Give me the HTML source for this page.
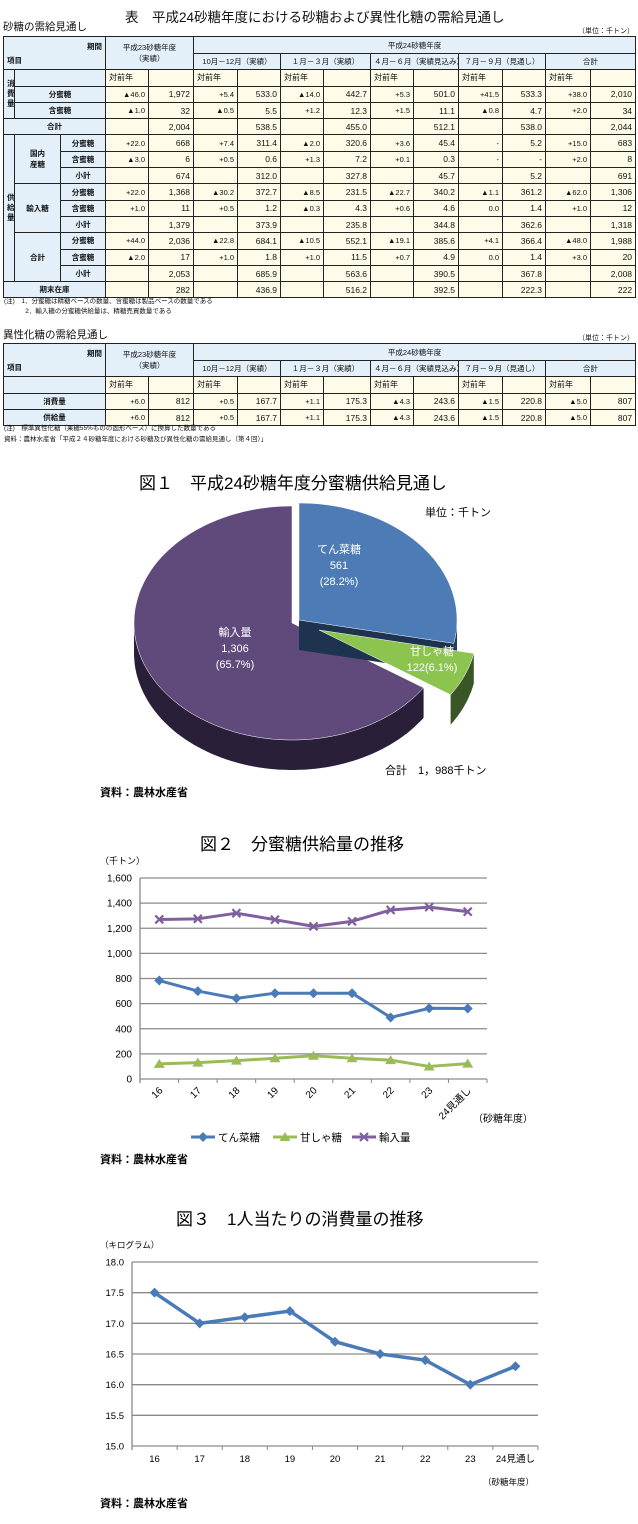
<!DOCTYPE html>
<html><head><meta charset="utf-8">
<style>
*{margin:0;padding:0;box-sizing:border-box}
body{width:638px;height:1524px;position:relative;background:#fff;font-family:"Liberation Sans","Noto Sans CJK JP",sans-serif;color:#111;overflow:hidden}
.abs{position:absolute;white-space:nowrap}
table{position:absolute;left:3px;width:632px;border-collapse:collapse;table-layout:fixed;font-size:7.5px}
td{border:1px solid #222;height:16.3px;padding:0 3px;overflow:hidden;white-space:nowrap}
.h{background:#e3f0fa;text-align:center}
.l{background:#e3f0fa;text-align:center;font-weight:bold}
.y{background:#fffbe9;text-align:right;border-right:1px dashed #333}
.v{background:#fffbe9;text-align:right;font-size:8.5px}
.yh{background:#fffbe9;text-align:left;border-right:1px dashed #333;font-size:8px}
</style></head><body>
<div class="abs" style="left:125px;top:6px;font-size:13.5px">表　平成24砂糖年度における砂糖および異性化糖の需給見通し</div>
<div class="abs" style="left:3px;top:21px;font-size:10.5px;line-height:13px">砂糖の需給見通し</div>
<div class="abs" style="right:4px;top:26px;font-size:7px">（単位：千トン）</div>
<table id="t1" style="top:36px">
<colgroup><col style="width:11px"><col style="width:46px"><col style="width:45px"><col style="width:43px"><col style="width:45px"><col style="width:44px"><col style="width:43px"><col style="width:43px"><col style="width:47px"><col style="width:43px"><col style="width:45px"><col style="width:44px"><col style="width:43px"><col style="width:45px"><col style="width:45px"></colgroup>
</table>
<div class="abs" style="left:4px;top:297px;font-size:6.5px;line-height:10px">(注)　1．分蜜糖は精糖ベースの数量、含蜜糖は製品ベースの数量である<br>　　　 2．輸入糖の分蜜糖供給量は、精糖売買数量である</div>
<div class="abs" style="left:3px;top:329px;font-size:10.5px;line-height:13px">異性化糖の需給見通し</div>
<div class="abs" style="right:4px;top:333px;font-size:7px">（単位：千トン）</div>
<table id="t2" style="top:343px">
<colgroup><col style="width:11px"><col style="width:46px"><col style="width:45px"><col style="width:43px"><col style="width:45px"><col style="width:44px"><col style="width:43px"><col style="width:43px"><col style="width:47px"><col style="width:43px"><col style="width:45px"><col style="width:44px"><col style="width:43px"><col style="width:45px"><col style="width:45px"></colgroup>
</table>
<div class="abs" style="left:4px;top:424px;font-size:6.5px;line-height:10.5px">(注)　標準異性化糖（果糖55%ものの固形ベース）に換算した数量である<br>資料：農林水産省「平成２４砂糖年度における砂糖及び異性化糖の需給見通し（第４回）」</div>

<svg id="svg" width="638" height="1524" style="position:absolute;left:0;top:0" font-family="Liberation Sans, Noto Sans CJK JP, sans-serif">
<text x="139" y="489" font-size="17">図１　平成24砂糖年度分蜜糖供給見通し</text>
<text x="425" y="516" font-size="11">単位：千トン</text>
<text x="385" y="774" font-size="11">合計　1，988千トン</text>
<text x="100" y="796" font-size="11" font-weight="bold">資料：農林水産省</text>
<text x="200" y="850" font-size="17">図２　分蜜糖供給量の推移</text>
<text x="100" y="864" font-size="9">（千トン）</text>
<text x="100" y="1163" font-size="11" font-weight="bold">資料：農林水産省</text>
<text x="473" y="1122" font-size="10">（砂糖年度）</text>
<text x="176" y="1225" font-size="17">図３　1人当たりの消費量の推移</text>
<text x="100" y="1248" font-size="8.5">（キログラム）</text>
<text x="483" y="1485" font-size="8.5">（砂糖年度）</text>
<text x="100" y="1507" font-size="11" font-weight="bold">資料：農林水産省</text>
</svg>

<script>
const periods=["10月－12月（実績）","１月－３月（実績）","４月－６月（実績見込み）","７月－９月（見通し）","合計"];
const consFun=[["▲46.0","1,972"],["+5.4","533.0"],["▲14.0","442.7"],["+5.3","501.0"],["+41.5","533.3"],["+38.0","2,010"]];
const consGan=[["▲1.0","32"],["▲0.5","5.5"],["+1.2","12.3"],["+1.5","11.1"],["▲0.8","4.7"],["+2.0","34"]];
const consTot=["2,004","538.5","455.0","512.1","538.0","2,044"];
const domFun=[["+22.0","668"],["+7.4","311.4"],["▲2.0","320.6"],["+3.6","45.4"],["-","5.2"],["+15.0","683"]];
const domGan=[["▲3.0","6"],["+0.5","0.6"],["+1.3","7.2"],["+0.1","0.3"],["-","-"],["+2.0","8"]];
const domSub=["674","312.0","327.8","45.7","5.2","691"];
const impFun=[["+22.0","1,368"],["▲30.2","372.7"],["▲8.5","231.5"],["▲22.7","340.2"],["▲1.1","361.2"],["▲62.0","1,306"]];
const impGan=[["+1.0","11"],["+0.5","1.2"],["▲0.3","4.3"],["+0.6","4.6"],["0.0","1.4"],["+1.0","12"]];
const impSub=["1,379","373.9","235.8","344.8","362.6","1,318"];
const totFun=[["+44.0","2,036"],["▲22.8","684.1"],["▲10.5","552.1"],["▲19.1","385.6"],["+4.1","366.4"],["▲48.0","1,988"]];
const totGan=[["▲2.0","17"],["+1.0","1.8"],["+1.0","11.5"],["+0.7","4.9"],["0.0","1.4"],["+3.0","20"]];
const totSub=["2,053","685.9","563.6","390.5","367.8","2,008"];
const stock=["282","436.9","516.2","392.5","222.3","222"];
const isoCons=[["+6.0","812"],["+0.5","167.7"],["+1.1","175.3"],["▲4.3","243.6"],["▲1.5","220.8"],["▲5.0","807"]];
const isoSup=[["+6.0","812"],["+0.5","167.7"],["+1.1","175.3"],["▲4.3","243.6"],["▲1.5","220.8"],["▲5.0","807"]];

function cell(tr,cls,txt,cs,rs){const td=document.createElement('td');td.className=cls;td.innerHTML=txt;if(cs)td.colSpan=cs;if(rs)td.rowSpan=rs;tr.appendChild(td);return td;}
function header(t){
 let tr=t.insertRow();
 let c=cell(tr,'h','<div style="text-align:right;font-weight:bold">期間</div><div style="text-align:left;font-weight:bold;margin-top:3px">項目</div>',3,2);
 
 
 c=cell(tr,'h','平成23砂糖年度<br>（実績）',2,2);
 
 
 c=cell(tr,'h','平成24砂糖年度',10);
 
 
 tr.style.height='17px';
 tr=t.insertRow();
 periods.forEach(p=>{const c=cell(tr,'h',p,2);
 
 });
 tr.style.height='14px';
}
function yoyRow(tr){for(let i=0;i<6;i++){cell(tr,'yh','対前年');cell(tr,'v','');}}
function dataCells(tr,arr){arr.forEach(p=>{cell(tr,'y',p[0]);const c=cell(tr,'v',p[1]);
 
 });}
function subCells(tr,arr){arr.forEach(v=>{cell(tr,'y','');const c=cell(tr,'v',v);
 
 });}
const vert=s=>'<div style="line-height:10px;font-weight:bold">'+s.split('').join('<br>')+'</div>';
const t1=document.getElementById('t1');
header(t1);
let tr=t1.insertRow();cell(tr,'l',vert('消費量'),1,3);cell(tr,'l','',2);yoyRow(tr);
tr=t1.insertRow();cell(tr,'l','分蜜糖',2);dataCells(tr,consFun);
tr=t1.insertRow();cell(tr,'l','含蜜糖',2);dataCells(tr,consGan);
tr=t1.insertRow();cell(tr,'l','合計',3);subCells(tr,consTot);
const groups=[['国内<br>産糖',domFun,domGan,domSub],['輸入糖',impFun,impGan,impSub],['合計',totFun,totGan,totSub]];
groups.forEach((g,gi)=>{
 tr=t1.insertRow();
 if(gi===0)cell(tr,'l',vert('供給量'),1,9);
 cell(tr,'l',g[0],1,3);cell(tr,'l','分蜜糖');dataCells(tr,g[1]);
 tr=t1.insertRow();cell(tr,'l','含蜜糖');dataCells(tr,g[2]);
 tr=t1.insertRow();cell(tr,'l','小計');subCells(tr,g[3]);
});
tr=t1.insertRow();cell(tr,'l','期末在庫',3);subCells(tr,stock);

const t2=document.getElementById('t2');
header(t2);
tr=t2.insertRow();cell(tr,'l','',3);yoyRow(tr);
tr=t2.insertRow();cell(tr,'l','消費量',3);dataCells(tr,isoCons);
tr=t2.insertRow();cell(tr,'l','供給量',3);dataCells(tr,isoSup);

// ===== Pie =====
const pieLabels=["てん菜糖","甘しゃ糖","輸入量"];
const pieValues=[561,122,1306];
const svg=document.getElementById('svg');
const NS='http://www.w3.org/2000/svg';
function mk(tag,attrs){const e=document.createElementNS(NS,tag);for(const k in attrs)e.setAttribute(k,attrs[k]);svg.appendChild(e);return e;}
const rx=158,ry=117,depth=30;
const pieTotal=pieValues.reduce((a,b)=>a+b,0);
const pt=(cx,cy,a,dy)=>[cx+rx*Math.sin(a*Math.PI/180),cy-ry*Math.cos(a*Math.PI/180)+(dy||0)];
function arc(cx,cy,a1,a2,dy){const p=[];const n=Math.max(2,Math.ceil((a2-a1)/2));for(let i=0;i<=n;i++)p.push(pt(cx,cy,a1+(a2-a1)*i/n,dy));return p;}
const toD=p=>'M'+p.map(q=>q[0].toFixed(1)+','+q[1].toFixed(1)).join('L')+'Z';
const centers=[[299,620],[319,630],[292,623]];
const tops=['#4d7bb5','#8dc450','#5f4a7b'],sides=['#243a5c','#3a5627','#2a1f38'];
const starts=[];let acc=0;pieValues.forEach(v=>{starts.push(acc);acc+=v/pieTotal*360;});
function drawSide(i){
 const a1=starts[i],a2=starts[i]+pieValues[i]/pieTotal*360;const [cx,cy]=centers[i];
 const s1=Math.max(a1,90),s2=Math.min(a2,270);
 if(s2>s1){const top=arc(cx,cy,s1,s2,0),bot=arc(cx,cy,s1,s2,depth).reverse();
  const side=mk('path',{d:toD(top.concat(bot)),fill:sides[i]});
  
  }
 if(i===0){const e=pt(cx,cy,a2);const face=mk('path',{d:toD([[cx,cy],e,[e[0],e[1]+depth],[cx,cy+depth]]),fill:'#1d3350'});
  
  }
}
function drawTop(i){
 const a1=starts[i],a2=starts[i]+pieValues[i]/pieTotal*360;const [cx,cy]=centers[i];
 const sl=mk('path',{d:toD([[cx,cy]].concat(arc(cx,cy,a1,a2,0))),fill:tops[i],stroke:'#fff','stroke-width':0.5});
 
 
}
drawSide(2);drawTop(2);
drawSide(0);
drawSide(1);drawTop(1);
drawTop(0);
const pieLabelPos=[[339,553],[432,655],[235,636]];
pieValues.forEach((v,i)=>{
 const pct='('+(v/pieTotal*100).toFixed(1)+'%)';
 const lines=i===1?[pieLabels[i],v+pct]:[pieLabels[i],v.toLocaleString('en-US'),pct];
 lines.forEach((s,j)=>{const t=mk('text',{x:pieLabelPos[i][0],y:pieLabelPos[i][1]+j*16,'font-size':11,fill:'#fff','text-anchor':'middle'});t.textContent=s;
  
  });
});

// ===== Chart 2 =====
const c2Cats=["16","17","18","19","20","21","22","23","24見通し"];
const c2Beet=[784,700,642,683,683,683,490,563,561];
const c2Cane=[120,130,146,165,185,165,150,100,122];
const c2Import=[1270,1275,1320,1268,1215,1255,1345,1368,1332];
const c2Ticks=[0,200,400,600,800,1000,1200,1400,1600];
const c2L=140,c2R=487,c2T=878,c2B=1079,c2Max=1600;
const x2=i=>c2L+(i+0.5)*(c2R-c2L)/c2Cats.length;
const y2=v=>c2B-v/c2Max*(c2B-c2T);
c2Ticks.forEach(v=>{
 const g=mk('line',{x1:c2L,x2:c2R,y1:y2(v),y2:y2(v),stroke:'#8a8a8a','stroke-width':1.3});
 
 
 const t=mk('text',{x:c2L-8,y:y2(v)+3.5,'font-size':10,'text-anchor':'end'});t.textContent=v.toLocaleString('en-US');
 
 
});
mk('line',{x1:c2L,x2:c2L,y1:c2T,y2:c2B+4,stroke:'#888','stroke-width':1.3});
c2Cats.forEach((c,i)=>{
 const bx=c2L+(i+1)*(c2R-c2L)/c2Cats.length;
 mk('line',{x1:bx,x2:bx,y1:c2B,y2:c2B+4,stroke:'#888'});
 const t=mk('text',{x:x2(i)+4,y:c2B+12,'font-size':10,'text-anchor':'end',transform:`rotate(-45 ${x2(i)+4} ${c2B+12})`});t.textContent=c;
 
 
});
function marker(kind,x,y,col){
 if(kind==='d')return mk('path',{d:`M${x},${y-5}L${x+5},${y}L${x},${y+5}L${x-5},${y}Z`,fill:col});
 if(kind==='t')return mk('path',{d:`M${x},${y-5}L${x+5.5},${y+4}L${x-5.5},${y+4}Z`,fill:col});
 return mk('path',{d:`M${x-4},${y-4}L${x+4},${y+4}M${x+4},${y-4}L${x-4},${y+4}`,stroke:col,'stroke-width':2.2});
}
const c2Series=[[c2Beet,'#4a7ab8','d','beet'],[c2Cane,'#9bbb59','t','cane'],[c2Import,'#7f5fa0','x','import']];
c2Series.forEach(s=>{
 const ln=mk('polyline',{points:s[0].map((v,i)=>x2(i)+','+y2(v)).join(' '),fill:'none',stroke:s[1],'stroke-width':3,'stroke-linejoin':'round'});
 
 
 s[0].forEach((v,i)=>{const m=marker(s[2],x2(i),y2(v),s[1]);
  
  });
});
const legendNames=["てん菜糖","甘しゃ糖","輸入量"];
const legendX=[191,273,352];
c2Series.forEach((s,i)=>{
 const lx=legendX[i],ly=1137;
 mk('line',{x1:lx,x2:lx+24,y1:ly,y2:ly,stroke:s[1],'stroke-width':3});
 marker(s[2],lx+12,ly,s[1]);
 const t=mk('text',{x:lx+27,y:ly+4,'font-size':10.5});t.textContent=legendNames[i];
 
 
});

// ===== Chart 3 =====
const c3Cats=["16","17","18","19","20","21","22","23","24見通し"];
const c3Values=[17.5,17.0,17.1,17.2,16.7,16.5,16.4,16.0,16.3];
const c3Ticks=[15.0,15.5,16.0,16.5,17.0,17.5,18.0];
const c3L=132,c3R=538,c3T=1262,c3B=1446,c3Min=15,c3Max=18;
const x3=i=>c3L+(i+0.5)*(c3R-c3L)/c3Cats.length;
const y3=v=>c3B-(v-c3Min)/(c3Max-c3Min)*(c3B-c3T);
c3Ticks.forEach(v=>{
 const g=mk('line',{x1:c3L,x2:c3R,y1:y3(v),y2:y3(v),stroke:'#8a8a8a','stroke-width':1.3});
 
 
 const t=mk('text',{x:c3L-8,y:y3(v)+3.5,'font-size':9.5,'text-anchor':'end'});t.textContent=v.toFixed(1);
 
 
});
mk('line',{x1:c3L,x2:c3L,y1:c3T,y2:c3B+4,stroke:'#888','stroke-width':1.3});
c3Cats.forEach((c,i)=>{
 const bx=c3L+(i+1)*(c3R-c3L)/c3Cats.length;
 mk('line',{x1:bx,x2:bx,y1:c3B,y2:c3B+4,stroke:'#888'});
 const t=mk('text',{x:x3(i),y:c3B+16,'font-size':9.5,'text-anchor':'middle'});t.textContent=c;
 
 
});
const l3=mk('polyline',{points:c3Values.map((v,i)=>x3(i)+','+y3(v)).join(' '),fill:'none',stroke:'#4a7ab8','stroke-width':3.5,'stroke-linejoin':'round'});


c3Values.forEach((v,i)=>{const m=marker('d',x3(i),y3(v),'#4a7ab8');
 
 });
</script>
</body></html>
